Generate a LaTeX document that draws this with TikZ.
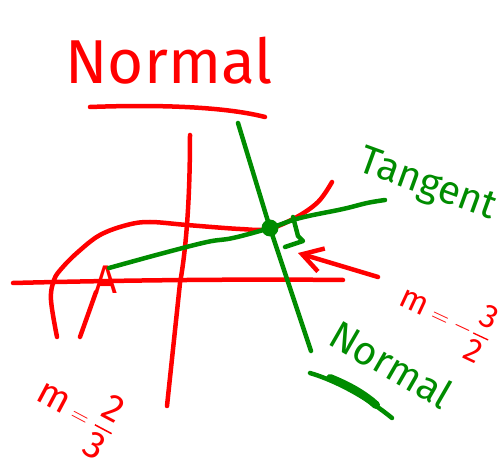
\documentclass[tikz,border=0pt]{standalone}
\usepackage{amsmath,amssymb}
\usepackage{fontspec}
\setmainfont{Fira Sans}
\setsansfont{Fira Sans}
\usetikzlibrary{arrows.meta}
\definecolor{penred}{RGB}{255,0,0}
\definecolor{pengreen}{RGB}{0,140,0}

\begin{document}
\begin{tikzpicture}[x=1pt,y=-1pt,
 redpen/.style={penred,line width=4.5pt,line cap=round,line join=round},
 greenpen/.style={pengreen,line width=4.5pt,line cap=round,line join=round},
 hand/.style={inner sep=0pt,font=\fontsize{#1}{#1}\selectfont}]
 \useasboundingbox (0,0) rectangle (504,473); % 枠

 \coordinate (NT) at (238,123); % 法線上端
 \coordinate (NB) at (311,351); % 法線下端
 \coordinate (TE) at (385,200); % 接線右端
 \coordinate (AS) at (378,277); % 矢印始点
 \coordinate (AE) at (298,253); % 矢印終点

 % タイトル
 \node[hand=62,penred,anchor=base] (title) at (169,84) {Normal};
 \draw[redpen] (90,107) .. controls (170,104) and (230,108) .. (265,117); % 下線

 % 座標軸
 \draw[redpen] (13,283) .. controls (130,280) and (250,279) .. (343,280); % x軸
 \draw[redpen] (190,135) .. controls (190,200) and (186,250) .. (180,283) -- (167,406); % y軸

 % 曲線
 \draw[redpen] plot[smooth,tension=0.6] coordinates {(57,337) (51,300) (54,280) (62,268) (78,252) (100,235) (127,225) (150,222) (187,225) (240,229) (268,229) (295,218) (318,202) (332,182)};

 % 点A
 \node[hand=40,penred] (A) at (106,280) {A};
 \draw[redpen] (96,292) -- (80,337); % Aの脚

 % 接点
 \node[circle,fill=pengreen,inner sep=0pt,minimum size=17pt] (P) at (270,228) {};

 % 接線
 \draw[greenpen] plot[smooth,tension=0.6] coordinates {(109,268) (160,254) (207,242) (233,238) (P) (300,218) (343,209) (367,203) (TE)};
 % 法線
 \draw[greenpen] (NT) -- (P.center) -- (NB);
 % 直角記号
 \draw[greenpen] (293,217) -- (298,236) -- (303,241) -- (285,247);

 % 矢印
 \draw[redpen,-{Straight Barb[length=20pt,width=24pt]}] (AS) -- (AE);

 % ラベル
 \node[hand=40,pengreen,anchor=base,rotate=-20] (tan) at (424,195) {Tangent};
 \node[hand=40,pengreen,anchor=base,rotate=-30] (nor) at (384,377) {Normal};
 \draw[greenpen] (310,373) .. controls (340,382) and (370,400) .. (392,418); % 下線
 \draw[greenpen,line width=8pt] (330,378) .. controls (350,386) and (365,395) .. (376,405);

 \node[hand=33,penred,rotate=-25] (mR) at (446,317) {$\text{m}=-\dfrac{\text{3}}{\text{2}}$};
 \node[hand=38,penred,rotate=-28] (mL) at (76,412) {$\text{m}=\dfrac{\text{2}}{\text{3}}$};
\end{tikzpicture}
\end{document}
